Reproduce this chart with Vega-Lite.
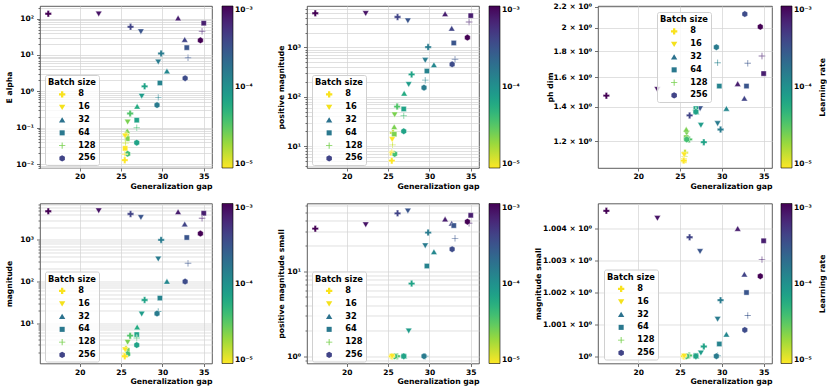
{
  "$schema": "https://vega.github.io/schema/vega-lite/v6.json",
  "padding": {"left": 4, "top": 2, "right": 0, "bottom": 0},
  "background": "white",
  "datasets": {
    "runs": [
      {"bs": 8, "lr": 0.001, "gap": 16.2, "ea": 136, "pm": 4920, "pd": 1.473, "mg": 4880, "pms": 32, "ms": 1.00455},
      {"bs": 16, "lr": 0.0008, "gap": 22.3, "ea": 136, "pm": 4900, "pd": 1.516, "mg": 5050, "pms": 35.7, "ms": 1.00432},
      {"bs": 32, "lr": 0.0007, "gap": 31.9, "ea": 103, "pm": 4760, "pd": 1.554, "mg": 4700, "pms": 41.3, "ms": 1.00399},
      {"bs": 64, "lr": 0.0007, "gap": 35.0, "ea": 74.8, "pm": 4400, "pd": 1.627, "mg": 4370, "pms": 46, "ms": 1.00361},
      {"bs": 8, "lr": 0.0004, "gap": 26.15, "ea": 59.3, "pm": 4130, "pd": 1.348, "mg": 4200, "pms": 48.5, "ms": 1.00372},
      {"bs": 16, "lr": 0.0003, "gap": 27.4, "ea": 44, "pm": 3480, "pd": 1.39, "mg": 3500, "pms": 52, "ms": 1.00328},
      {"bs": 128, "lr": 0.0007, "gap": 34.8, "ea": 45, "pm": 3270, "pd": 1.761, "mg": 3310, "pms": 37, "ms": 1.00302},
      {"bs": 32, "lr": 0.0004, "gap": 32.7, "ea": 26.4, "pm": 2420, "pd": 1.455, "mg": 2380, "pms": 37, "ms": 1.00256},
      {"bs": 256, "lr": 0.001, "gap": 34.6, "ea": 25.3, "pm": 1580, "pd": 2.008, "mg": 1420, "pms": 38.7, "ms": 1.0025},
      {"bs": 64, "lr": 0.0003, "gap": 32.95, "ea": 15.9, "pm": 1230, "pd": 1.538, "mg": 1140, "pms": 34.8, "ms": 1.00199},
      {"bs": 8, "lr": 0.00015, "gap": 29.85, "ea": 11, "pm": 1016, "pd": 1.265, "mg": 1000, "pms": 28.8, "ms": 1.00175},
      {"bs": 128, "lr": 0.0003, "gap": 33.1, "ea": 8.4, "pm": 576, "pd": 1.705, "mg": 275, "pms": 24.6, "ms": 1.00127},
      {"bs": 16, "lr": 0.00015, "gap": 29.5, "ea": 6.5, "pm": 550, "pd": 1.3, "mg": 350, "pms": 20.2, "ms": 1.00116},
      {"bs": 32, "lr": 0.00012, "gap": 30.55, "ea": 3.58, "pm": 441, "pd": 1.39, "mg": 100, "pms": 17, "ms": 1.00068},
      {"bs": 256, "lr": 0.00035, "gap": 32.75, "ea": 2.29, "pm": 455, "pd": 2.127, "mg": 100, "pms": 18.3, "ms": 1.00082},
      {"bs": 64, "lr": 0.00013, "gap": 29.7, "ea": 1.7, "pm": 332, "pd": 1.538, "mg": 40, "pms": 11.6, "ms": 1.00038},
      {"bs": 8, "lr": 0.00007, "gap": 27.85, "ea": 1.375, "pm": 283, "pd": 1.195, "mg": 36, "pms": 7.2, "ms": 1.0003},
      {"bs": 16, "lr": 0.00008, "gap": 27.5, "ea": 0.743, "pm": 179, "pd": 1.29, "mg": 16.7, "pms": 2.0, "ms": 1.0001},
      {"bs": 128, "lr": 0.00013, "gap": 29.5, "ea": 0.682, "pm": 217, "pd": 1.708, "mg": 19, "pms": 1.0, "ms": 1.00001},
      {"bs": 256, "lr": 0.00015, "gap": 29.35, "ea": 0.418, "pm": 153, "pd": 1.832, "mg": 17, "pms": 1.0, "ms": 1.0},
      {"bs": 32, "lr": 0.00006, "gap": 26.95, "ea": 0.384, "pm": 117, "pd": 1.37, "mg": 8, "pms": 1.0, "ms": 1.0},
      {"bs": 8, "lr": 0.000035, "gap": 26.1, "ea": 0.246, "pm": 63.2, "pd": 1.21, "mg": 5, "pms": 1.0, "ms": 1.00002},
      {"bs": 64, "lr": 0.00007, "gap": 26.9, "ea": 0.161, "pm": 56.6, "pd": 1.39, "mg": 5.3, "pms": 1.0, "ms": 1.00002},
      {"bs": 16, "lr": 0.000025, "gap": 25.8, "ea": 0.144, "pm": 43.4, "pd": 1.245, "mg": 3.5, "pms": 1.0, "ms": 1.00001},
      {"bs": 128, "lr": 0.00004, "gap": 26.9, "ea": 0.1, "pm": 41.3, "pd": 1.38, "mg": 4.4, "pms": 1.0, "ms": 1.0},
      {"bs": 32, "lr": 0.000025, "gap": 25.75, "ea": 0.0814, "pm": 24.5, "pd": 1.265, "mg": 2.05, "pms": 1.0, "ms": 1.0},
      {"bs": 8, "lr": 0.000015, "gap": 25.6, "ea": 0.063, "pm": 18.5, "pd": 1.14, "mg": 2.4, "pms": 1.0, "ms": 1.0},
      {"bs": 64, "lr": 0.000025, "gap": 25.75, "ea": 0.05, "pm": 17.4, "pd": 1.22, "mg": 2.2, "pms": 1.0, "ms": 1.0},
      {"bs": 128, "lr": 0.000015, "gap": 25.55, "ea": 0.038, "pm": 10.6, "pd": 1.12, "mg": 1.9, "pms": 1.0, "ms": 1.0},
      {"bs": 256, "lr": 0.00007, "gap": 26.9, "ea": 0.0387, "pm": 20.0, "pd": 1.37, "mg": 2.97, "pms": 1.0, "ms": 1.0},
      {"bs": 64, "lr": 0.00001, "gap": 25.5, "ea": 0.027, "pm": 7.2, "pd": 1.1, "mg": 1.7, "pms": 1.0, "ms": 1.0},
      {"bs": 256, "lr": 0.00004, "gap": 25.8, "ea": 0.0192, "pm": 6.95, "pd": 1.21, "mg": 1.8, "pms": 1.0, "ms": 1.0},
      {"bs": 128, "lr": 0.00001, "gap": 25.45, "ea": 0.0187, "pm": 7.5, "pd": 1.11, "mg": 1.6, "pms": 1.0, "ms": 1.0},
      {"bs": 8, "lr": 0.00001, "gap": 25.45, "ea": 0.0128, "pm": 5.07, "pd": 1.1, "mg": 1.6, "pms": 1.0, "ms": 1.0},
      {"bs": 16, "lr": 0.00001, "gap": 25.5, "ea": 0.06, "pm": 13.7, "pd": 1.13, "mg": 2.3, "pms": 1.0, "ms": 1.0}
    ]
  },
  "vconcat": [
    {
      "hconcat": [
        {
          "width": 172, "height": 162,
          "data": {"name": "runs"},
          "encoding": {
            "x": {"field": "gap", "type": "quantitative", "scale": {"domain": [15.2, 36.0], "nice": false, "zero": false},
                  "axis": {"title": "Generalization gap", "values": [20, 25, 30, 35], "titleAnchor": "end"}},
            "y": {"field": "ea", "type": "quantitative", "scale": {"type": "log", "domain": [0.0078, 222], "nice": false},
                  "axis": {"title": "E alpha", "titleX": -27, "titleY": 81,
                           "values": [0.008, 0.009, 0.01, 0.02, 0.03, 0.04, 0.05, 0.06, 0.07, 0.08, 0.09, 0.1, 0.2, 0.3, 0.4, 0.5, 0.6, 0.7, 0.8, 0.9, 1, 2, 3, 4, 5, 6, 7, 8, 9, 10, 20, 30, 40, 50, 60, 70, 80, 90, 100, 200],
                           "labelExpr": "abs(log(datum.value)/LN10 - round(log(datum.value)/LN10)) < 0.000001 ? '10' + replace(replace(replace(replace(replace(replace(replace(toString(round(log(datum.value)/LN10)), '-', '⁻'), '0', '⁰'), '1', '¹'), '2', '²'), '3', '³'), '4', '⁴'), '5', '⁵') : ''",
                           "tickSize": {"condition": {"test": "abs(log(datum.value)/LN10 - round(log(datum.value)/LN10)) < 0.000001", "value": 3.5}, "value": 2}}},
            "shape": {"field": "bs", "type": "nominal", "scale": {"domain": [8, 16, 32, 64, 128, 256], "range": ["M-0.36,-1H0.36V-0.36H1V0.36H0.36V1H-0.36V0.36H-1V-0.36H-0.36Z", "M0,0.9L-1,-0.8L1,-0.8Z", "M0,-0.9L1,0.8L-1,0.8Z", "M-0.8,-0.8H0.8V0.8H-0.8Z", "M-0.14,-1H0.14V-0.14H1V0.14H0.14V1H-0.14V0.14H-1V-0.14H-0.14Z", "M0,-1L0.866,-0.5L0.866,0.5L0,1L-0.866,0.5L-0.866,-0.5Z"]},
                      "legend": {"orient": "none", "legendX": 5, "legendY": 69, "title": "Batch size", "fillColor": "rgba(255,255,255,0.8)", "strokeColor": "#d0d0d0", "cornerRadius": 2, "padding": 3, "titlePadding": 4, "rowPadding": 3.8, "symbolOffset": 10, "labelOffset": 12, "symbolSize": 40, "symbolOpacity": 1, "symbolStrokeWidth": 0, "titleFontSize": 8.3, "labelFontSize": 8.3}}
          },
          "layer": [
            {"mark": {"type": "point", "filled": true, "size": 42, "stroke": "white", "strokeWidth": 0.4, "opacity": 1},
             "encoding": {"color": {"field": "lr", "type": "quantitative", "scale": {"type": "log", "domain": [0.00001, 0.001], "scheme": "viridis", "reverse": true},
                      "legend": {"type": "gradient", "orient": "none", "legendX": 182, "legendY": 0, "direction": "vertical", "gradientLength": 162, "title": null, "values": [0.00001, 0.0001, 0.001],
                                 "labelExpr": "'10' + replace(replace(replace(replace(toString(round(log(datum.value)/LN10)), '-', '⁻'), '3', '³'), '4', '⁴'), '5', '⁵')"}}}},
            {"mark": {"type": "point", "filled": true, "size": 42, "opacity": 0},
             "encoding": {"fill": {"field": "bs", "type": "nominal", "scale": {"domain": [8, 16, 32, 64, 128, 256], "range": ["#f9e21e", "#f4e11c", "#2c728e", "#2a788e", "#7ad151", "#414487"]},
                      "legend": {"orient": "none", "legendX": 5, "legendY": 69, "title": "Batch size", "fillColor": "rgba(255,255,255,0.8)", "strokeColor": "#d0d0d0", "cornerRadius": 2, "padding": 3, "titlePadding": 4, "rowPadding": 3.8, "symbolOffset": 10, "labelOffset": 12, "symbolSize": 40, "symbolOpacity": 1, "symbolStrokeWidth": 0, "titleFontSize": 8.3, "labelFontSize": 8.3}}}}
          ]
        },
        {"width": 95, "height": 162, "data": {"values": []}, "mark": {"type": "point"}, "view": {"stroke": null}},
        {
          "width": 172, "height": 162,
          "data": {"name": "runs"},
          "encoding": {
            "x": {"field": "gap", "type": "quantitative", "scale": {"domain": [15.2, 36.0], "nice": false, "zero": false},
                  "axis": {"title": "Generalization gap", "values": [20, 25, 30, 35], "titleAnchor": "end"}},
            "y": {"field": "pm", "type": "quantitative", "scale": {"type": "log", "domain": [3.6, 6900], "nice": false},
                  "axis": {"title": "positive magnitude", "titleX": -22, "titleY": 81,
                           "values": [4, 5, 6, 7, 8, 9, 10, 20, 30, 40, 50, 60, 70, 80, 90, 100, 200, 300, 400, 500, 600, 700, 800, 900, 1000, 2000, 3000, 4000, 5000, 6000],
                           "labelExpr": "abs(log(datum.value)/LN10 - round(log(datum.value)/LN10)) < 0.000001 ? '10' + replace(replace(replace(replace(replace(replace(replace(toString(round(log(datum.value)/LN10)), '-', '⁻'), '0', '⁰'), '1', '¹'), '2', '²'), '3', '³'), '4', '⁴'), '5', '⁵') : ''",
                           "tickSize": {"condition": {"test": "abs(log(datum.value)/LN10 - round(log(datum.value)/LN10)) < 0.000001", "value": 3.5}, "value": 2}}},
            "shape": {"field": "bs", "type": "nominal", "scale": {"domain": [8, 16, 32, 64, 128, 256], "range": ["M-0.36,-1H0.36V-0.36H1V0.36H0.36V1H-0.36V0.36H-1V-0.36H-0.36Z", "M0,0.9L-1,-0.8L1,-0.8Z", "M0,-0.9L1,0.8L-1,0.8Z", "M-0.8,-0.8H0.8V0.8H-0.8Z", "M-0.14,-1H0.14V-0.14H1V0.14H0.14V1H-0.14V0.14H-1V-0.14H-0.14Z", "M0,-1L0.866,-0.5L0.866,0.5L0,1L-0.866,0.5L-0.866,-0.5Z"]},
                      "legend": {"orient": "none", "legendX": 5, "legendY": 69, "title": "Batch size", "fillColor": "rgba(255,255,255,0.8)", "strokeColor": "#d0d0d0", "cornerRadius": 2, "padding": 3, "titlePadding": 4, "rowPadding": 3.8, "symbolOffset": 10, "labelOffset": 12, "symbolSize": 40, "symbolOpacity": 1, "symbolStrokeWidth": 0, "titleFontSize": 8.3, "labelFontSize": 8.3}}
          },
          "layer": [
            {"mark": {"type": "point", "filled": true, "size": 42, "stroke": "white", "strokeWidth": 0.4, "opacity": 1},
             "encoding": {"color": {"field": "lr", "type": "quantitative", "scale": {"type": "log", "domain": [0.00001, 0.001], "scheme": "viridis", "reverse": true},
                      "legend": {"type": "gradient", "orient": "none", "legendX": 182, "legendY": 0, "direction": "vertical", "gradientLength": 162, "title": null, "values": [0.00001, 0.0001, 0.001],
                                 "labelExpr": "'10' + replace(replace(replace(replace(toString(round(log(datum.value)/LN10)), '-', '⁻'), '3', '³'), '4', '⁴'), '5', '⁵')"}}}},
            {"mark": {"type": "point", "filled": true, "size": 42, "opacity": 0},
             "encoding": {"fill": {"field": "bs", "type": "nominal", "scale": {"domain": [8, 16, 32, 64, 128, 256], "range": ["#f9e21e", "#f4e11c", "#2c728e", "#2a788e", "#7ad151", "#414487"]},
                      "legend": {"orient": "none", "legendX": 5, "legendY": 69, "title": "Batch size", "fillColor": "rgba(255,255,255,0.8)", "strokeColor": "#d0d0d0", "cornerRadius": 2, "padding": 3, "titlePadding": 4, "rowPadding": 3.8, "symbolOffset": 10, "labelOffset": 12, "symbolSize": 40, "symbolOpacity": 1, "symbolStrokeWidth": 0, "titleFontSize": 8.3, "labelFontSize": 8.3}}}}
          ]
        },
        {"width": 119, "height": 162, "data": {"values": []}, "mark": {"type": "point"}, "view": {"stroke": null}},
        {
          "width": 174, "height": 162,
          "data": {"name": "runs"},
          "encoding": {
            "x": {"field": "gap", "type": "quantitative", "scale": {"domain": [15.2, 36.0], "nice": false, "zero": false},
                  "axis": {"title": "Generalization gap", "values": [20, 25, 30, 35], "titleAnchor": "end"}},
            "shape": {"field": "bs", "type": "nominal", "scale": {"domain": [8, 16, 32, 64, 128, 256], "range": ["M-0.36,-1H0.36V-0.36H1V0.36H0.36V1H-0.36V0.36H-1V-0.36H-0.36Z", "M0,0.9L-1,-0.8L1,-0.8Z", "M0,-0.9L1,0.8L-1,0.8Z", "M-0.8,-0.8H0.8V0.8H-0.8Z", "M-0.14,-1H0.14V-0.14H1V0.14H0.14V1H-0.14V0.14H-1V-0.14H-0.14Z", "M0,-1L0.866,-0.5L0.866,0.5L0,1L-0.866,0.5L-0.866,-0.5Z"]},
                      "legend": {"orient": "none", "legendX": 59, "legendY": 6, "title": "Batch size", "fillColor": "rgba(255,255,255,0.8)", "strokeColor": "#d0d0d0", "cornerRadius": 2, "padding": 3, "titlePadding": 4, "rowPadding": 3.8, "symbolOffset": 10, "labelOffset": 12, "symbolSize": 40, "symbolOpacity": 1, "symbolStrokeWidth": 0, "titleFontSize": 8.3, "labelFontSize": 8.3}}
          },
          "layer": [
            {"mark": {"type": "point", "filled": true, "size": 42, "stroke": "white", "strokeWidth": 0.4, "opacity": 1},
             "encoding": {
               "y": {"field": "pd", "type": "quantitative", "scale": {"type": "log", "domain": [1.064, 2.205], "nice": false},
                  "axis": {"title": "ph dim", "titleX": -44, "titleY": 81, "tickSize": 3.5,
                           "values": [1.2, 1.4, 1.6, 1.8, 2, 2.2],
                           "labelExpr": "datum.value == 2 ? '2 × 10⁰' : format(datum.value, '.1f') + ' × 10⁰'"}},
               "color": {"field": "lr", "type": "quantitative", "scale": {"type": "log", "domain": [0.00001, 0.001], "scheme": "viridis", "reverse": true},
                      "legend": {"type": "gradient", "orient": "none", "legendX": 183, "legendY": 0, "direction": "vertical", "gradientLength": 162, "title": null, "values": [0.00001, 0.0001, 0.001],
                                 "labelExpr": "'10' + replace(replace(replace(replace(toString(round(log(datum.value)/LN10)), '-', '⁻'), '3', '³'), '4', '⁴'), '5', '⁵')"}}}},
            {"mark": {"type": "point", "filled": true, "size": 42, "opacity": 0},
             "encoding": {
               "y": {"field": "pd", "type": "quantitative",
                  "axis": {"orient": "right", "title": "Learning rate", "titleAngle": -90, "titleX": 50, "titleY": 81, "titleAlign": "center", "titleBaseline": "middle", "labels": false, "ticks": false, "grid": false, "domain": false}},
               "fill": {"field": "bs", "type": "nominal", "scale": {"domain": [8, 16, 32, 64, 128, 256], "range": ["#f9e21e", "#f4e11c", "#2c728e", "#2a788e", "#7ad151", "#414487"]},
                      "legend": {"orient": "none", "legendX": 59, "legendY": 6, "title": "Batch size", "fillColor": "rgba(255,255,255,0.8)", "strokeColor": "#d0d0d0", "cornerRadius": 2, "padding": 3, "titlePadding": 4, "rowPadding": 3.8, "symbolOffset": 10, "labelOffset": 12, "symbolSize": 40, "symbolOpacity": 1, "symbolStrokeWidth": 0, "titleFontSize": 8.3, "labelFontSize": 8.3}}}}
          ],
          "resolve": {"axis": {"y": "independent"}}
        }
      ],
      "spacing": 0,
      "bounds": "flush",
      "resolve": {"scale": {"color": "independent", "shape": "independent", "fill": "independent"}, "legend": {"color": "independent", "shape": "independent", "fill": "independent"}}
    },
    {
      "hconcat": [
        {
          "width": 172, "height": 160,
          "data": {"name": "runs"},
          "encoding": {
            "x": {"field": "gap", "type": "quantitative", "scale": {"domain": [15.2, 36.0], "nice": false, "zero": false},
                  "axis": {"title": "Generalization gap", "values": [20, 25, 30, 35], "titleAnchor": "end"}},
            "y": {"field": "mg", "type": "quantitative", "scale": {"type": "log", "domain": [1.07, 7500], "nice": false},
                  "axis": {"title": "magnitude", "titleX": -27, "titleY": 80,
                           "values": [2, 3, 4, 5, 6, 7, 8, 9, 10, 20, 30, 40, 50, 60, 70, 80, 90, 100, 200, 300, 400, 500, 600, 700, 800, 900, 1000, 2000, 3000, 4000, 5000, 6000, 7000],
                           "labelExpr": "abs(log(datum.value)/LN10 - round(log(datum.value)/LN10)) < 0.000001 ? '10' + replace(replace(replace(replace(replace(replace(replace(toString(round(log(datum.value)/LN10)), '-', '⁻'), '0', '⁰'), '1', '¹'), '2', '²'), '3', '³'), '4', '⁴'), '5', '⁵') : ''",
                           "tickSize": {"condition": {"test": "abs(log(datum.value)/LN10 - round(log(datum.value)/LN10)) < 0.000001", "value": 3.5}, "value": 2}}},
            "shape": {"field": "bs", "type": "nominal", "scale": {"domain": [8, 16, 32, 64, 128, 256], "range": ["M-0.36,-1H0.36V-0.36H1V0.36H0.36V1H-0.36V0.36H-1V-0.36H-0.36Z", "M0,0.9L-1,-0.8L1,-0.8Z", "M0,-0.9L1,0.8L-1,0.8Z", "M-0.8,-0.8H0.8V0.8H-0.8Z", "M-0.14,-1H0.14V-0.14H1V0.14H0.14V1H-0.14V0.14H-1V-0.14H-0.14Z", "M0,-1L0.866,-0.5L0.866,0.5L0,1L-0.866,0.5L-0.866,-0.5Z"]},
                      "legend": {"orient": "none", "legendX": 5, "legendY": 68, "title": "Batch size", "fillColor": "rgba(255,255,255,0.8)", "strokeColor": "#d0d0d0", "cornerRadius": 2, "padding": 3, "titlePadding": 4, "rowPadding": 3.8, "symbolOffset": 10, "labelOffset": 12, "symbolSize": 40, "symbolOpacity": 1, "symbolStrokeWidth": 0, "titleFontSize": 8.3, "labelFontSize": 8.3}}
          },
          "layer": [
            {"mark": {"type": "point", "filled": true, "size": 42, "stroke": "white", "strokeWidth": 0.4, "opacity": 1},
             "encoding": {"color": {"field": "lr", "type": "quantitative", "scale": {"type": "log", "domain": [0.00001, 0.001], "scheme": "viridis", "reverse": true},
                      "legend": {"type": "gradient", "orient": "none", "legendX": 182, "legendY": 0, "direction": "vertical", "gradientLength": 160, "title": null, "values": [0.00001, 0.0001, 0.001],
                                 "labelExpr": "'10' + replace(replace(replace(replace(toString(round(log(datum.value)/LN10)), '-', '⁻'), '3', '³'), '4', '⁴'), '5', '⁵')"}}}},
            {"mark": {"type": "point", "filled": true, "size": 42, "opacity": 0},
             "encoding": {"fill": {"field": "bs", "type": "nominal", "scale": {"domain": [8, 16, 32, 64, 128, 256], "range": ["#f9e21e", "#f4e11c", "#2c728e", "#2a788e", "#7ad151", "#414487"]},
                      "legend": {"orient": "none", "legendX": 5, "legendY": 68, "title": "Batch size", "fillColor": "rgba(255,255,255,0.8)", "strokeColor": "#d0d0d0", "cornerRadius": 2, "padding": 3, "titlePadding": 4, "rowPadding": 3.8, "symbolOffset": 10, "labelOffset": 12, "symbolSize": 40, "symbolOpacity": 1, "symbolStrokeWidth": 0, "titleFontSize": 8.3, "labelFontSize": 8.3}}}}
          ]
        },
        {"width": 95, "height": 160, "data": {"values": []}, "mark": {"type": "point"}, "view": {"stroke": null}},
        {
          "width": 172, "height": 160,
          "data": {"name": "runs"},
          "encoding": {
            "x": {"field": "gap", "type": "quantitative", "scale": {"domain": [15.2, 36.0], "nice": false, "zero": false},
                  "axis": {"title": "Generalization gap", "values": [20, 25, 30, 35], "titleAnchor": "end"}},
            "y": {"field": "pms", "type": "quantitative", "scale": {"type": "log", "domain": [0.821, 63.4], "nice": false},
                  "axis": {"title": "positive magnitude small", "titleX": -22, "titleY": 80,
                           "values": [0.9, 1, 2, 3, 4, 5, 6, 7, 8, 9, 10, 20, 30, 40, 50, 60],
                           "labelExpr": "abs(log(datum.value)/LN10 - round(log(datum.value)/LN10)) < 0.000001 ? '10' + replace(replace(replace(replace(replace(replace(replace(toString(round(log(datum.value)/LN10)), '-', '⁻'), '0', '⁰'), '1', '¹'), '2', '²'), '3', '³'), '4', '⁴'), '5', '⁵') : ''",
                           "tickSize": {"condition": {"test": "abs(log(datum.value)/LN10 - round(log(datum.value)/LN10)) < 0.000001", "value": 3.5}, "value": 2}}},
            "shape": {"field": "bs", "type": "nominal", "scale": {"domain": [8, 16, 32, 64, 128, 256], "range": ["M-0.36,-1H0.36V-0.36H1V0.36H0.36V1H-0.36V0.36H-1V-0.36H-0.36Z", "M0,0.9L-1,-0.8L1,-0.8Z", "M0,-0.9L1,0.8L-1,0.8Z", "M-0.8,-0.8H0.8V0.8H-0.8Z", "M-0.14,-1H0.14V-0.14H1V0.14H0.14V1H-0.14V0.14H-1V-0.14H-0.14Z", "M0,-1L0.866,-0.5L0.866,0.5L0,1L-0.866,0.5L-0.866,-0.5Z"]},
                      "legend": {"orient": "none", "legendX": 5, "legendY": 68, "title": "Batch size", "fillColor": "rgba(255,255,255,0.8)", "strokeColor": "#d0d0d0", "cornerRadius": 2, "padding": 3, "titlePadding": 4, "rowPadding": 3.8, "symbolOffset": 10, "labelOffset": 12, "symbolSize": 40, "symbolOpacity": 1, "symbolStrokeWidth": 0, "titleFontSize": 8.3, "labelFontSize": 8.3}}
          },
          "layer": [
            {"mark": {"type": "point", "filled": true, "size": 42, "stroke": "white", "strokeWidth": 0.4, "opacity": 1},
             "encoding": {"color": {"field": "lr", "type": "quantitative", "scale": {"type": "log", "domain": [0.00001, 0.001], "scheme": "viridis", "reverse": true},
                      "legend": {"type": "gradient", "orient": "none", "legendX": 182, "legendY": 0, "direction": "vertical", "gradientLength": 160, "title": null, "values": [0.00001, 0.0001, 0.001],
                                 "labelExpr": "'10' + replace(replace(replace(replace(toString(round(log(datum.value)/LN10)), '-', '⁻'), '3', '³'), '4', '⁴'), '5', '⁵')"}}}},
            {"mark": {"type": "point", "filled": true, "size": 42, "opacity": 0},
             "encoding": {"fill": {"field": "bs", "type": "nominal", "scale": {"domain": [8, 16, 32, 64, 128, 256], "range": ["#f9e21e", "#f4e11c", "#2c728e", "#2a788e", "#7ad151", "#414487"]},
                      "legend": {"orient": "none", "legendX": 5, "legendY": 68, "title": "Batch size", "fillColor": "rgba(255,255,255,0.8)", "strokeColor": "#d0d0d0", "cornerRadius": 2, "padding": 3, "titlePadding": 4, "rowPadding": 3.8, "symbolOffset": 10, "labelOffset": 12, "symbolSize": 40, "symbolOpacity": 1, "symbolStrokeWidth": 0, "titleFontSize": 8.3, "labelFontSize": 8.3}}}}
          ]
        },
        {"width": 119, "height": 160, "data": {"values": []}, "mark": {"type": "point"}, "view": {"stroke": null}},
        {
          "width": 174, "height": 160,
          "data": {"name": "runs"},
          "encoding": {
            "x": {"field": "gap", "type": "quantitative", "scale": {"domain": [15.2, 36.0], "nice": false, "zero": false},
                  "axis": {"title": "Generalization gap", "values": [20, 25, 30, 35], "titleAnchor": "end"}},
            "shape": {"field": "bs", "type": "nominal", "scale": {"domain": [8, 16, 32, 64, 128, 256], "range": ["M-0.36,-1H0.36V-0.36H1V0.36H0.36V1H-0.36V0.36H-1V-0.36H-0.36Z", "M0,0.9L-1,-0.8L1,-0.8Z", "M0,-0.9L1,0.8L-1,0.8Z", "M-0.8,-0.8H0.8V0.8H-0.8Z", "M-0.14,-1H0.14V-0.14H1V0.14H0.14V1H-0.14V0.14H-1V-0.14H-0.14Z", "M0,-1L0.866,-0.5L0.866,0.5L0,1L-0.866,0.5L-0.866,-0.5Z"]},
                      "legend": {"orient": "none", "legendX": 6, "legendY": 66, "title": "Batch size", "fillColor": "rgba(255,255,255,0.8)", "strokeColor": "#d0d0d0", "cornerRadius": 2, "padding": 3, "titlePadding": 4, "rowPadding": 3.8, "symbolOffset": 10, "labelOffset": 12, "symbolSize": 40, "symbolOpacity": 1, "symbolStrokeWidth": 0, "titleFontSize": 8.3, "labelFontSize": 8.3}}
          },
          "layer": [
            {"mark": {"type": "point", "filled": true, "size": 42, "stroke": "white", "strokeWidth": 0.4, "opacity": 1},
             "encoding": {
               "y": {"field": "ms", "type": "quantitative", "scale": {"type": "log", "domain": [0.99977, 1.00478], "nice": false},
                  "axis": {"title": "magnitude small", "titleX": -56, "titleY": 80, "tickSize": 3.5,
                           "values": [1, 1.001, 1.002, 1.003, 1.004],
                           "labelExpr": "datum.value == 1 ? '10⁰' : format(datum.value, '.3f') + ' × 10⁰'"}},
               "color": {"field": "lr", "type": "quantitative", "scale": {"type": "log", "domain": [0.00001, 0.001], "scheme": "viridis", "reverse": true},
                      "legend": {"type": "gradient", "orient": "none", "legendX": 183, "legendY": 0, "direction": "vertical", "gradientLength": 160, "title": null, "values": [0.00001, 0.0001, 0.001],
                                 "labelExpr": "'10' + replace(replace(replace(replace(toString(round(log(datum.value)/LN10)), '-', '⁻'), '3', '³'), '4', '⁴'), '5', '⁵')"}}}},
            {"mark": {"type": "point", "filled": true, "size": 42, "opacity": 0},
             "encoding": {
               "y": {"field": "ms", "type": "quantitative",
                  "axis": {"orient": "right", "title": "Learning rate", "titleAngle": -90, "titleX": 50, "titleY": 80, "titleAlign": "center", "titleBaseline": "middle", "labels": false, "ticks": false, "grid": false, "domain": false}},
               "fill": {"field": "bs", "type": "nominal", "scale": {"domain": [8, 16, 32, 64, 128, 256], "range": ["#f9e21e", "#f4e11c", "#2c728e", "#2a788e", "#7ad151", "#414487"]},
                      "legend": {"orient": "none", "legendX": 6, "legendY": 66, "title": "Batch size", "fillColor": "rgba(255,255,255,0.8)", "strokeColor": "#d0d0d0", "cornerRadius": 2, "padding": 3, "titlePadding": 4, "rowPadding": 3.8, "symbolOffset": 10, "labelOffset": 12, "symbolSize": 40, "symbolOpacity": 1, "symbolStrokeWidth": 0, "titleFontSize": 8.3, "labelFontSize": 8.3}}}}
          ],
          "resolve": {"axis": {"y": "independent"}}
        }
      ],
      "spacing": 0,
      "bounds": "flush",
      "resolve": {"scale": {"color": "independent", "shape": "independent", "fill": "independent"}, "legend": {"color": "independent", "shape": "independent", "fill": "independent"}}
    }
  ],
  "spacing": 11.5,
  "resolve": {"scale": {"color": "independent", "shape": "independent", "fill": "independent"}, "legend": {"color": "independent", "shape": "independent", "fill": "independent"}},
  "config": {
    "font": "DejaVu Sans",
    "view": {"stroke": "#333333", "strokeWidth": 0.8},
    "axis": {"labelFont": "DejaVu Sans", "titleFont": "DejaVu Sans", "labelFontWeight": "bold", "titleFontWeight": "bold", "labelFontSize": 7.5, "titleFontSize": 7.7, "labelColor": "#000000", "titleColor": "#000000", "domain": false, "grid": true, "gridColor": "#d3d3d3", "gridWidth": 0.7, "tickColor": "#333333", "tickWidth": 0.7, "labelPadding": 3, "titlePadding": 3},
    "axisX": {"tickSize": 3, "labelPadding": 1.5, "titlePadding": 2},
    "legend": {"labelFont": "DejaVu Sans", "titleFont": "DejaVu Sans", "labelFontWeight": "bold", "titleFontWeight": "bold", "labelColor": "#000000", "titleColor": "#000000", "labelFontSize": 7.5, "titleFontSize": 7.7, "gradientThickness": 11, "gradientStrokeColor": "#000000", "gradientStrokeWidth": 0.6, "labelOffset": 3}
  }
}
